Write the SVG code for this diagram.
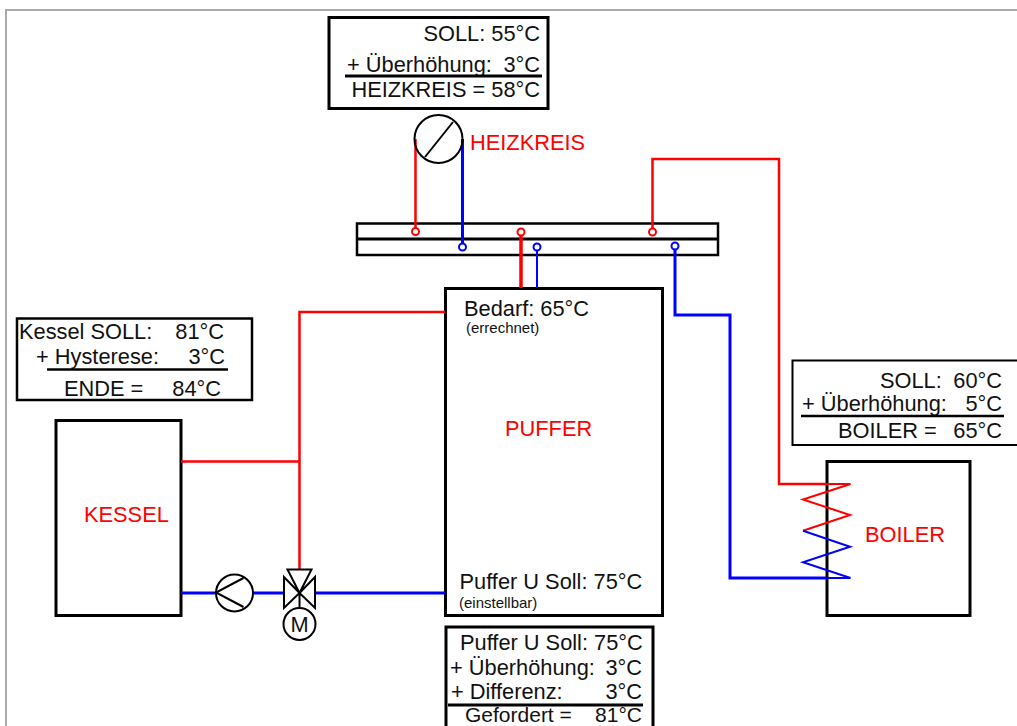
<svg xmlns="http://www.w3.org/2000/svg" width="1017" height="726" viewBox="0 0 1017 726">
<style>
text{font-family:"Liberation Sans",Arial,sans-serif;font-size:21.8px;fill:#111}
.r{fill:#f00}
text.s{font-size:15px}
text.g{font-size:21px}
.e{text-anchor:end}
.m{text-anchor:middle}
.b{fill:#fff;stroke:#000;stroke-width:3}
.t{fill:none;stroke:#000;stroke-width:2}
.div{fill:none;stroke:#000;stroke-width:3}
.red{fill:none;stroke:#f00;stroke-width:3}
.blue{fill:none;stroke:#00f;stroke-width:3}
.red2{fill:none;stroke:#f00;stroke-width:2.500}
.coilr{fill:none;stroke:#f00;stroke-width:2}
.coilb{fill:none;stroke:#00f;stroke-width:2}
.pr{fill:#fff;stroke:#f00;stroke-width:2}
.pb{fill:#fff;stroke:#00f;stroke-width:2}
</style>
<rect width="1017" height="726" fill="#fff"/>
<path d="M1017 10H6V726" fill="none" stroke="#aaa" stroke-width="2"/>
<g id="verteiler">
<rect x="357" y="223.500" width="361" height="31.500" fill="#fff" stroke="#000" stroke-width="2.500"/>
<path d="M357 239H718" class="div"/>
</g>
<g id="puffer">
<rect x="445.500" y="288.500" width="217" height="327" class="b"/>
<text x="464" y="316">Bedarf: 65°C</text>
<text x="466" y="333" class="s">(errechnet)</text>
<text x="505" y="436" class="r">PUFFER</text>
<text x="459.500" y="589">Puffer U Soll: 75°C</text>
<text x="459" y="608" class="s">(einstellbar)</text>
</g>
<g id="kessel">
<rect x="56" y="420.500" width="125" height="195" class="b"/>
<text x="84" y="522" class="r">KESSEL</text>
</g>
<g id="boiler">
<rect x="827" y="461.500" width="143" height="154" class="b"/>
<text x="865" y="542" class="r">BOILER</text>
</g>
<g id="connectors">
<path d="M181 461.500H299.500M445 312H299.500V570" class="red2"/>
<path d="M181 593H217M253 593H285M315 593H445" class="blue"/>
<path d="M415.500 139V228" class="red2"/>
<path d="M462.500 139V243" class="blue"/>
<path d="M521 235V288" class="red" style="stroke-width:3.500"/>
<path d="M537 250V288" class="blue" style="stroke-width:2"/>
<path d="M652.500 228V159H779V484H826" class="red2"/>
<path d="M826 484H850.500L803 499.500L850 515L803 530.700" class="coilr"/>
<path d="M675 250V315H730V578H826" class="blue"/>
<path d="M826 578H850.500L803 562.300L850 546.700L803 530.700" class="coilb"/>
<circle cx="415.500" cy="231.500" r="3.500" class="pr"/>
<circle cx="462.500" cy="247" r="3.500" class="pb"/>
<circle cx="521" cy="232" r="3.500" class="pr"/>
<circle cx="537" cy="247" r="3.500" class="pb"/>
<circle cx="652.500" cy="232" r="3.500" class="pr"/>
<circle cx="675" cy="246" r="3.500" class="pb"/>
</g>
<g id="heizkreis">
<circle cx="438.500" cy="139" r="24" fill="none" stroke="#000" stroke-width="2"/>
<path d="M453 122L425 157" class="t"/>
<text x="470" y="150" class="r">HEIZKREIS</text>
</g>
<g id="pumpe">
<circle cx="234.500" cy="593" r="18.500" fill="#fff" stroke="#000" stroke-width="2"/>
<path d="M243.500 578L216 592.500L243.500 607" class="t"/>
</g>
<g id="ventil">
<path d="M287.500 569.500H311.500L299.500 593ZM284 577V608L299.500 593ZM315 577V608L299.500 593ZM299.500 593V608" fill="#fff" stroke="#000" stroke-width="2"/>
<circle cx="299.500" cy="624" r="16" fill="#fff" stroke="#000" stroke-width="2"/>
<text x="299.500" y="632" class="m">M</text>
</g>
<g id="info-heizkreis">
<rect x="329" y="17.500" width="219" height="91" class="b"/>
<text x="540" y="41" class="e">SOLL: 55°C</text>
<text x="347" y="72">+ Überhöhung:</text>
<text x="540" y="72" class="e">3°C</text>
<path d="M345 76H542" class="div"/>
<text x="540" y="97" class="e">HEIZKREIS = 58°C</text>
</g>
<g id="info-kessel">
<rect x="17" y="318.500" width="235" height="81.500" fill="#fff" stroke="#000" stroke-width="2.500"/>
<text x="19" y="339">Kessel SOLL:</text>
<text x="224" y="339" class="e">81°C</text>
<text x="36" y="364">+ Hysterese:</text>
<text x="225" y="364" class="e">3°C</text>
<path d="M47 369.500H228" class="t" style="stroke-width:2.500"/>
<text x="64" y="396">ENDE =</text>
<text x="221" y="396" class="e">84°C</text>
</g>
<g id="info-boiler">
<rect x="792.500" y="360.500" width="226" height="84.500" fill="#fff" stroke="#000" stroke-width="2"/>
<text x="880" y="388">SOLL:</text>
<text x="1002" y="388" class="e">60°C</text>
<text x="802" y="411">+ Überhöhung:</text>
<text x="1002" y="411" class="e">5°C</text>
<path d="M801 416H1004" class="t" style="stroke-width:2.500"/>
<text x="838" y="438">BOILER =</text>
<text x="1002" y="438" class="e">65°C</text>
</g>
<g id="info-puffer">
<rect x="446" y="627" width="207" height="110" class="b"/>
<text x="460" y="650">Puffer U Soll: 75°C</text>
<text x="450" y="675">+ Überhöhung:</text>
<text x="642" y="675" class="e">3°C</text>
<text x="451" y="699">+ Differenz:</text>
<text x="642" y="699" class="e">3°C</text>
<path d="M448 705H643" class="div"/>
<text x="465" y="721.500" class="g">Gefordert =</text>
<text x="642" y="721.500" class="e g">81°C</text>
</g>
</svg>
